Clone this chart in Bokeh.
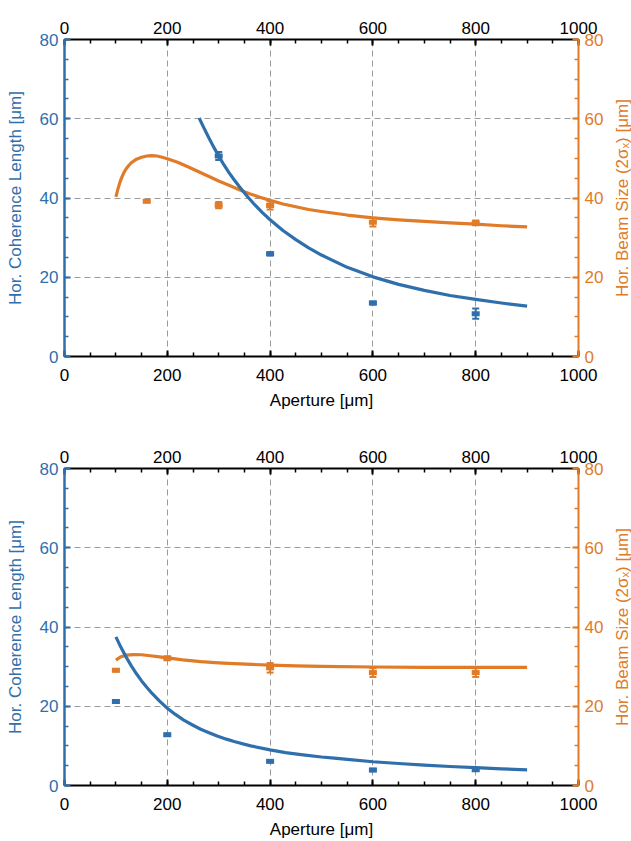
import math
from bokeh.plotting import figure
from bokeh.models import (Range1d, LinearAxis, SingleIntervalTicker, ColumnDataSource,
                          Whisker, TeeHead, Label)
from bokeh.layouts import column, row
from bokeh.embed import file_html
from bokeh.resources import INLINE

BLUE = "#2f6fac"
ORANGE = "#e07b28"
FONT = "Liberation Sans"

# ---------------- upper panel ----------------
top_coh_x = [300, 400, 600, 800]
top_coh_y = [50.6, 25.9, 13.5, 10.8]
top_coh_err = [1.0, 0.4, 0.4, 1.3]

top_beam_x = [160, 300, 400, 600, 800]
top_beam_y = [39.2, 38.2, 38.1, 33.9, 33.7]
top_beam_err = [0.3, 0.8, 1.0, 1.1, 0.6]

top_coh_fit_x = [262, 270, 280, 290, 300, 310, 320, 330, 340, 355, 370, 385, 400, 425,
                 450, 475, 500, 550, 600, 650, 700, 750, 800, 850, 900]
top_coh_fit_y = [60.2, 58.0, 55.4, 52.9, 50.6, 48.4, 46.4, 44.6, 42.9, 40.5, 38.3, 36.3,
                 34.5, 31.8, 29.5, 27.4, 25.6, 22.5, 20.1, 18.2, 16.7, 15.4, 14.4, 13.5, 12.7]

top_beam_fit_x = [100, 104, 108, 112, 116, 120, 125, 130, 140, 150, 160, 170, 180, 190,
                  200, 220, 240, 260, 280, 300, 320, 340, 360, 380, 400, 425, 450, 475,
                  500, 550, 600, 650, 700, 750, 800, 850, 900]
top_beam_fit_y = [40.3, 42.3, 44.0, 45.4, 46.5, 47.4, 48.2, 48.9, 49.8, 50.3, 50.6, 50.7,
                  50.6, 50.3, 49.9, 49.0, 47.9, 46.7, 45.5, 44.3, 43.2, 42.1, 41.1, 40.2,
                  39.4, 38.5, 37.8, 37.1, 36.6, 35.7, 35.0, 34.5, 34.1, 33.7, 33.4, 33.0, 32.7]

# ---------------- lower panel ----------------
bot_x = [100, 200, 400, 600, 800]
bot_coh_y = [21.2, 12.8, 6.1, 3.9, 4.0]
bot_coh_err = [0.4, 0.3, 0.3, 0.3, 0.3]
bot_beam_y = [29.1, 32.1, 29.7, 28.5, 28.5]
bot_beam_err = [0.3, 0.5, 1.2, 1.1, 1.1]

bot_coh_fit_x = [100, 110, 120, 130, 140, 150, 160, 170, 185, 200, 215, 232, 250, 265,
                 280, 297, 315, 330, 362, 400, 430, 460, 500, 525, 550, 600, 650, 700,
                 750, 800, 850, 900]
bot_coh_fit_y = [37.5, 34.8, 32.4, 30.2, 28.2, 26.4, 24.8, 23.3, 21.3, 19.5, 18.0, 16.5,
                 15.2, 14.2, 13.4, 12.5, 11.7, 11.1, 10.0, 9.0, 8.3, 7.8, 7.2, 6.9, 6.6,
                 6.0, 5.55, 5.15, 4.8, 4.5, 4.2, 3.95]

bot_beam_fit_x = [100, 105, 110, 120, 135, 150, 167, 185, 200, 230, 265, 300, 330, 365,
                  400, 450, 500, 600, 700, 800, 900]
bot_beam_fit_y = [31.6, 32.1, 32.5, 32.9, 33.05, 33.0, 32.75, 32.45, 32.2, 31.7, 31.25,
                  30.95, 30.75, 30.55, 30.4, 30.2, 30.05, 29.9, 29.8, 29.8, 29.8]

x_ticks_step = 200
y_ticks_step = 20
x_label = "Aperture [μm]"
y_left_label = "Hor. Coherence Length [μm]"
y_right_label = "Hor. Beam Size (2σₓ) [μm]"


def style_axis(ax, color, line_width, tick_step, standoff):
    ax.ticker = SingleIntervalTicker(interval=tick_step, num_minor_ticks=4)
    ax.axis_line_color = color
    ax.axis_line_width = line_width
    ax.major_tick_line_color = color
    ax.minor_tick_line_color = color
    ax.major_tick_line_width = 2
    ax.minor_tick_line_width = 1.5
    ax.major_tick_in = 6
    ax.major_tick_out = 0
    ax.minor_tick_in = 4
    ax.minor_tick_out = 0
    ax.major_label_text_color = color
    ax.major_label_text_font = FONT
    ax.major_label_text_font_size = "17px"
    ax.major_label_standoff = standoff
    ax.axis_label_text_font = FONT
    ax.axis_label_text_font_size = "17px"
    ax.axis_label_text_font_style = "normal"
    ax.axis_label_text_color = color


def add_points(p, xs, ys, errs, color):
    src = ColumnDataSource(dict(x=xs, y=ys,
                                lo=[a - b for a, b in zip(ys, errs)],
                                hi=[a + b for a, b in zip(ys, errs)]))
    w = Whisker(source=src, base="x", lower="lo", upper="hi",
                line_color=color, line_width=2,
                upper_head=TeeHead(size=7, line_color=color, line_width=2),
                lower_head=TeeHead(size=7, line_color=color, line_width=2))
    p.add_layout(w)
    p.rect("x", "y", width=8, height=5, width_units="screen", height_units="screen",
           source=src, fill_color=color, line_color=None)


def make_panel(height, top, bottom, coh, beam):
    p = figure(width=613, height=height, x_range=Range1d(0, 1000), y_range=Range1d(0, 80),
               output_backend="svg", toolbar_location=None,
               min_border_left=64, min_border_right=35,
               min_border_top=top, min_border_bottom=bottom)
    p.extra_y_ranges = {"right": Range1d(0, 80)}
    p.outline_line_color = None
    p.background_fill_color = "white"
    p.border_fill_color = "white"

    style_axis(p.xaxis[0], "black", 2, x_ticks_step, 12)
    p.xaxis[0].axis_label = x_label
    p.xaxis[0].axis_label_standoff = 7

    style_axis(p.yaxis[0], BLUE, 2.5, y_ticks_step, 6)
    p.yaxis[0].axis_label = y_left_label
    p.yaxis[0].axis_label_standoff = 12

    ax_top = LinearAxis()
    style_axis(ax_top, "black", 2, x_ticks_step, 6)
    p.add_layout(ax_top, "above")

    ax_right = LinearAxis(y_range_name="right")
    style_axis(ax_right, ORANGE, 2, y_ticks_step, 6)
    p.add_layout(ax_right, "right")

    for g, step in ((p.xgrid[0], x_ticks_step), (p.ygrid[0], y_ticks_step)):
        g.ticker = SingleIntervalTicker(interval=step)
        g.grid_line_color = "#9a9a9a"
        g.grid_line_dash = "6 4"
        g.grid_line_width = 1

    (cfx, cfy), (bfx, bfy) = coh[0], beam[0]
    p.line(bfx, bfy, line_color=ORANGE, line_width=3.2, line_join="round")
    p.line(cfx, cfy, line_color=BLUE, line_width=3.2, line_join="round")
    add_points(p, *coh[1], BLUE)
    add_points(p, *beam[1], ORANGE)

    # strip on the right carrying the right-hand axis title, reading upwards
    side = figure(width=18, height=height, x_range=Range1d(0, 1), y_range=Range1d(0, 80),
                  output_backend="svg", toolbar_location=None,
                  min_border_left=0, min_border_right=0,
                  min_border_top=top, min_border_bottom=bottom)
    side.axis.visible = False
    side.grid.visible = False
    side.outline_line_color = None
    side.border_fill_color = "white"
    side.add_layout(Label(x=0.5, y=40, text=y_right_label, angle=math.pi / 2,
                          text_align="center", text_baseline="middle", text_color=ORANGE,
                          text_font=FONT, text_font_size="17px"))
    return row(p, side, spacing=0)


panel_top = make_panel(420, 39, 64,
                       ((top_coh_fit_x, top_coh_fit_y), (top_coh_x, top_coh_y, top_coh_err)),
                       ((top_beam_fit_x, top_beam_fit_y), (top_beam_x, top_beam_y, top_beam_err)))
panel_bot = make_panel(421, 48, 55,
                       ((bot_coh_fit_x, bot_coh_fit_y), (bot_x, bot_coh_y, bot_coh_err)),
                       ((bot_beam_fit_x, bot_beam_fit_y), (bot_x, bot_beam_y, bot_beam_err)))

layout = column(panel_top, panel_bot, spacing=0)
open("out.html", "w").write(file_html(layout, INLINE))
